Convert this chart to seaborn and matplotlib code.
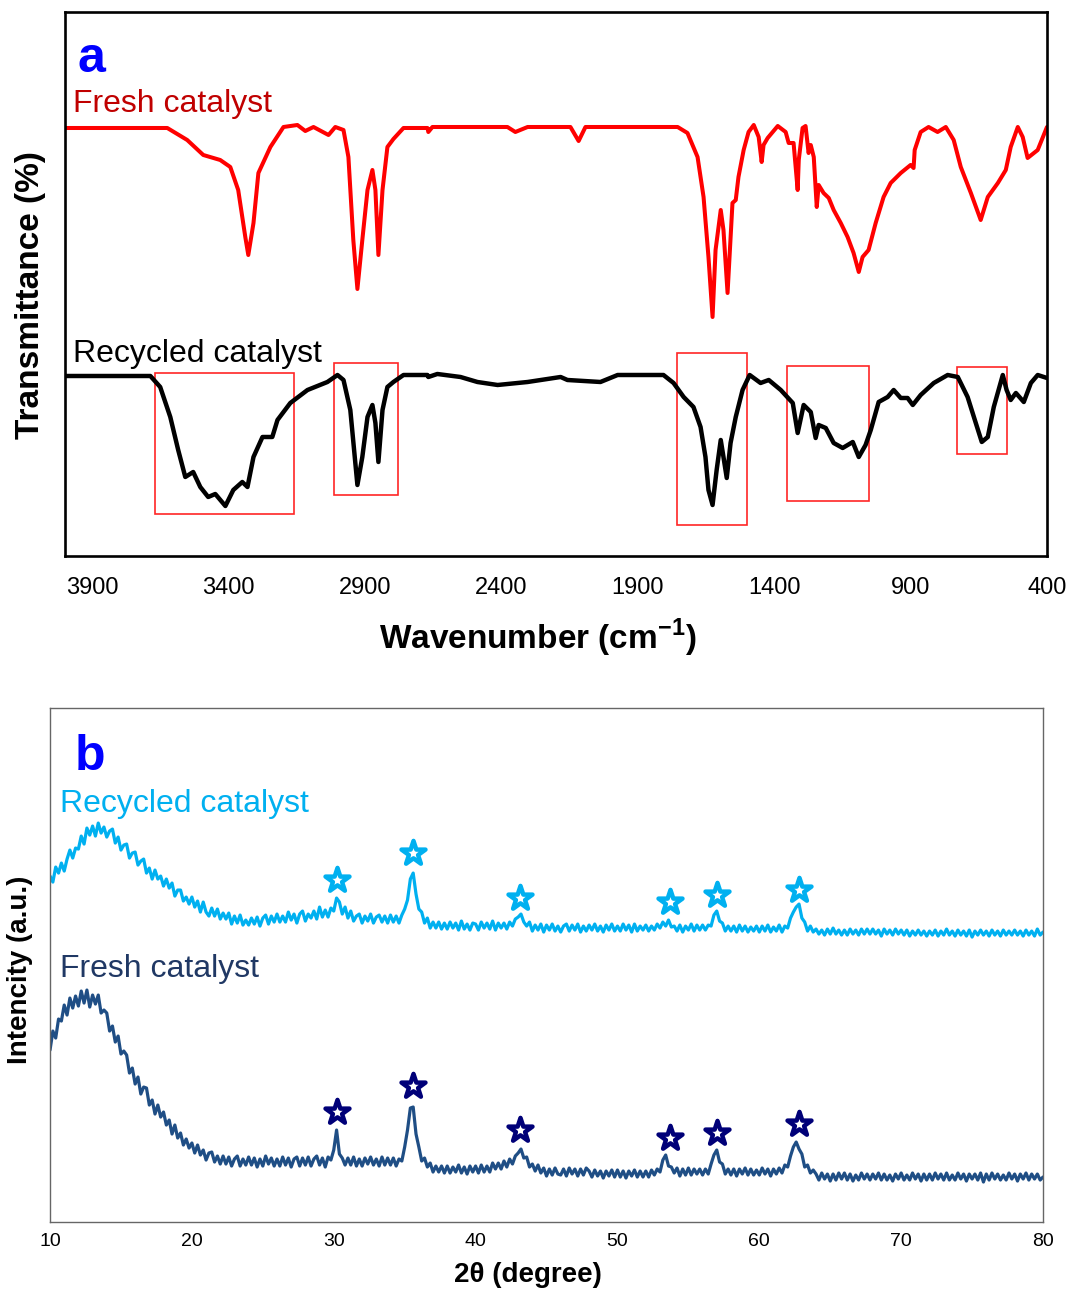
import numpy as np
import pandas as pd
import matplotlib
matplotlib.use('Agg')
import matplotlib.pyplot as plt
from matplotlib.patches import Rectangle
import seaborn as sns

# ---- FTIR (panel a) ----
fresh_wn = [4000, 3625, 3552, 3493, 3431, 3394, 3365, 3339, 3328, 3309, 3291, 3247, 3199, 3148,
            3119, 3089, 3034, 3009, 2979, 2961, 2943, 2928, 2910, 2891, 2873, 2862, 2851, 2836,
            2818, 2796, 2759, 2671, 2668, 2653, 2378, 2349, 2304, 2147, 2117, 2092, 1754, 1718,
            1681, 1659, 1641, 1626, 1615, 1596, 1586, 1571, 1553, 1541, 1531, 1512, 1494, 1475,
            1457, 1446, 1439, 1424, 1387, 1358, 1347, 1329, 1314, 1310, 1296, 1285, 1274, 1266,
            1255, 1244, 1237, 1219, 1200, 1182, 1156, 1131, 1109, 1090, 1076, 1054, 1028, 999,
            973, 936, 900, 889, 885, 863, 834, 801, 771, 742, 716, 679, 643, 617, 580, 551, 533,
            507, 489, 471, 434, 400]
fresh_t = [428, 428, 416, 401, 396, 389, 366, 319, 301, 333, 383, 409, 429, 431,
           425, 429, 421, 429, 426, 399, 316, 267, 316, 366, 386, 366, 301, 366,
           409, 417, 428, 428, 424, 429, 429, 424, 429, 429, 415, 429, 429, 423,
           399, 359, 299, 239, 306, 346, 326, 263, 353, 356, 379, 406, 424, 431,
           419, 394, 411, 418, 430, 424, 413, 413, 366, 396, 428, 430, 403, 411,
           399, 349, 371, 363, 358, 346, 333, 319, 303, 284, 299, 306, 333, 359,
           373, 383, 391, 388, 406, 424, 429, 424, 429, 416, 389, 363, 336, 359, 373, 386, 409,
           429, 419, 398, 406, 429]

recycled_wn = [4000, 3687, 3651, 3614, 3585, 3559, 3530, 3504, 3475, 3449, 3412, 3383, 3350, 3331,
               3309, 3276, 3240, 3221, 3174, 3111, 3038, 3001, 2979, 2954, 2928, 2910, 2891, 2873,
               2862, 2851, 2836, 2818, 2796, 2759, 2671, 2668, 2635, 2550, 2488, 2414, 2304, 2183,
               2158, 2037, 1974, 1806, 1769, 1732, 1696, 1670, 1652, 1641, 1626, 1611, 1596, 1586,
               1574, 1560, 1541, 1516, 1490, 1450, 1420, 1376, 1332, 1314, 1292, 1266, 1248, 1237,
               1211, 1182, 1149, 1112, 1090, 1065, 1046, 1017, 984, 962, 936, 911, 892, 863, 815,
               764, 727, 691, 661, 639, 617, 595, 562, 548, 533, 514, 485, 459, 434, 400]
recycled_t = [180, 180, 169, 139, 106, 79, 84, 69, 59, 62, 50, 66, 74, 69,
              99, 119, 119, 136, 153, 166, 174, 181, 176, 146, 71, 99, 139, 151,
              133, 94, 146, 169, 174, 181, 181, 179, 182, 179, 174, 171, 174, 179,
              176, 174, 181, 181, 173, 159, 149, 129, 99, 66, 51, 86, 116, 99,
              78, 113, 139, 166, 181, 173, 176, 166, 153, 123, 151, 144, 118, 131,
              128, 113, 108, 114, 99, 111, 126, 154, 159, 166, 158, 158, 151, 161, 173,
              181, 179, 159, 133, 114, 119, 149, 181, 166, 156, 163, 154, 173, 181, 178]

# highlighted regions: (wavenumber high, wavenumber low, T low, T high)
boxes = [(3669, 3159, 42, 183), (3012, 2778, 61, 193), (1758, 1501, 31, 203),
         (1354, 1054, 55, 190), (731, 548, 102, 189)]
wn_ticks = [3900, 3400, 2900, 2400, 1900, 1400, 900, 400]

# ---- XRD (panel b), 2theta = 10..80 step 0.2 ----
two_theta = np.round(np.linspace(10, 80, 351), 1)
recycled_int = [346, 340, 355, 349, 359, 351, 363, 372, 364, 374,
                373, 386, 378, 394, 387, 396, 386, 399, 389, 395,
                385, 391, 393, 379, 385, 372, 377, 378, 364, 369,
                370, 357, 361, 363, 349, 354, 343, 352, 343, 346,
                336, 343, 334, 339, 326, 332, 332, 321, 325, 318,
                325, 315, 321, 310, 320, 310, 306, 314, 306, 313,
                303, 309, 303, 309, 298, 306, 299, 307, 297, 302,
                297, 304, 298, 305, 296, 304, 307, 298, 306, 300,
                308, 300, 306, 300, 310, 302, 308, 299, 308, 311,
                301, 308, 304, 311, 303, 315, 305, 312, 305, 314,
                311, 324, 320, 308, 315, 304, 311, 301, 306, 308,
                299, 306, 301, 308, 299, 305, 307, 300, 306, 299,
                307, 300, 306, 299, 307, 313, 322, 343, 349, 328,
                313, 310, 299, 304, 294, 300, 294, 300, 293, 299,
                293, 300, 294, 299, 292, 301, 293, 298, 292, 299,
                298, 292, 300, 294, 299, 293, 301, 292, 299, 294,
                299, 293, 300, 296, 303, 305, 308, 300, 296, 300,
                291, 297, 292, 298, 290, 297, 292, 298, 291, 296,
                290, 296, 298, 291, 297, 292, 298, 290, 296, 291,
                297, 292, 298, 291, 296, 290, 297, 292, 298, 291,
                296, 291, 298, 292, 297, 290, 298, 291, 296, 292,
                297, 291, 296, 292, 298, 294, 300, 296, 302, 295,
                296, 291, 297, 290, 296, 292, 298, 291, 297, 292,
                297, 292, 297, 296, 307, 311, 301, 299, 291, 296,
                291, 296, 290, 297, 291, 296, 290, 295, 291, 296,
                290, 296, 291, 297, 290, 295, 291, 297, 290, 296,
                294, 304, 310, 315, 318, 304, 300, 291, 296, 290,
                293, 288, 292, 287, 293, 288, 294, 288, 292, 287,
                292, 287, 293, 288, 292, 287, 293, 288, 293, 288,
                293, 288, 292, 286, 293, 288, 292, 287, 293, 288,
                292, 287, 292, 286, 291, 287, 292, 287, 291, 286,
                291, 287, 292, 286, 291, 287, 293, 287, 291, 286,
                292, 287, 291, 286, 292, 285, 291, 287, 292, 287,
                291, 286, 292, 287, 291, 286, 292, 287, 291, 287,
                292, 287, 291, 286, 292, 287, 291, 286, 293, 287,
                290]
fresh_int = [172, 191, 184, 203, 201, 217, 207, 224, 214, 226,
             216, 231, 219, 232, 215, 227, 218, 227, 209, 212,
             209, 191, 196, 180, 186, 168, 171, 167, 149, 154,
             138, 145, 128, 135, 134, 117, 122, 108, 117, 105,
             110, 97, 102, 88, 97, 84, 89, 77, 83, 74,
             79, 69, 77, 67, 72, 62, 69, 70, 60, 66,
             58, 66, 58, 65, 56, 63, 66, 56, 63, 57,
             65, 57, 64, 55, 63, 56, 66, 58, 64, 56,
             63, 56, 65, 57, 64, 55, 63, 65, 56, 64,
             57, 65, 56, 63, 66, 57, 64, 55, 65, 62,
             72, 92, 68, 64, 57, 64, 57, 65, 56, 63,
             56, 64, 58, 65, 57, 63, 56, 65, 57, 64,
             57, 64, 56, 63, 61, 75, 92, 114, 115, 88,
             75, 61, 64, 55, 59, 50, 56, 50, 56, 49,
             56, 49, 55, 50, 57, 49, 55, 48, 56, 50,
             56, 49, 57, 50, 56, 50, 59, 53, 59, 53,
             61, 55, 63, 58, 66, 69, 73, 64, 65, 55,
             58, 51, 57, 49, 54, 46, 53, 47, 54, 48,
             47, 53, 46, 54, 48, 53, 46, 53, 47, 54,
             51, 45, 52, 46, 51, 44, 51, 46, 52, 45,
             52, 45, 51, 44, 51, 46, 52, 45, 51, 45,
             51, 45, 52, 47, 53, 50, 62, 67, 56, 55,
             49, 54, 46, 53, 47, 54, 47, 53, 48, 53,
             47, 53, 48, 58, 67, 72, 60, 58, 48, 53,
             47, 53, 46, 53, 48, 54, 47, 53, 47, 52,
             47, 54, 48, 53, 46, 53, 48, 54, 49, 57,
             55, 66, 75, 80, 73, 68, 55, 57, 49, 52,
             48, 42, 49, 43, 48, 41, 48, 42, 49, 43,
             49, 42, 48, 41, 47, 42, 49, 43, 48, 42,
             48, 43, 49, 42, 48, 42, 47, 41, 48, 43,
             49, 42, 47, 42, 49, 43, 48, 41, 48, 42,
             48, 42, 49, 43, 48, 42, 49, 42, 47, 42,
             49, 43, 48, 41, 48, 43, 48, 42, 49, 40,
             48, 42, 49, 43, 48, 42, 47, 42, 49, 43,
             48, 41, 48, 43, 49, 42, 48, 43, 48, 42,
             45]
star_pos = [30.2, 35.6, 43.1, 53.7, 57.0, 62.8]
recycled_star = [342, 369, 324, 320, 327, 332]
fresh_star = [110, 136, 92, 84, 89, 98]
theta_ticks = [10, 20, 30, 40, 50, 60, 70, 80]

sns.set_style('white')
plt.rcParams['font.family'] = ['Liberation Sans', 'DejaVu Sans']
plt.rcParams['mathtext.fontset'] = 'custom'
plt.rcParams['mathtext.rm'] = 'Liberation Sans'
plt.rcParams['mathtext.bf'] = 'Liberation Sans:bold'

RED = '#FF0000'
LIGHT = '#00B0F0'
DARK = '#1F4E85'
NAVY = '#000078'

fig = plt.figure(figsize=(10.69, 12.9), dpi=100)

# panel a
ax1 = fig.add_axes([0.0608, 0.569, 0.9186, 0.4217])
sns.lineplot(x=fresh_wn, y=fresh_t, ax=ax1, color=RED, linewidth=2.9, estimator=None, sort=False)
sns.lineplot(x=recycled_wn, y=recycled_t, ax=ax1, color='black', linewidth=3.2, estimator=None, sort=False)
for ln in ax1.lines:
    ln.set_solid_joinstyle('round')
for hi, lo, b, t in boxes:
    ax1.add_patch(Rectangle((lo, b), hi - lo, t - b, fill=False, edgecolor=RED,
                            linewidth=1.2, alpha=0.85))
ax1.set_xlim(4000, 400)
ax1.set_ylim(0, 544)
ax1.set_xticks(wn_ticks)
ax1.set_xticklabels([str(v) for v in wn_ticks], fontsize=17, color='black')
ax1.set_yticks([])
ax1.tick_params(axis='x', length=0, pad=15)
for sp in ax1.spines.values():
    sp.set_color('black')
    sp.set_linewidth(1.9)
ax1.set_xlabel('Wavenumber (cm$^{\\mathbf{-1}}$)', fontsize=24, fontweight='bold', color='black')
ax1.xaxis.set_label_coords(0.4817, -0.112)
ax1.set_ylabel('Transmittance (%)', fontsize=24, fontweight='bold', color='black')
ax1.yaxis.set_label_coords(-0.019, 0.48)
ax1.text(0.013, 0.8897, 'a', transform=ax1.transAxes, fontsize=36, fontweight='bold',
         color='#0000FF', va='baseline')
ax1.text(0.008, 0.816, 'Fresh catalyst', transform=ax1.transAxes, fontsize=23,
         color='#C00000', va='baseline')
ax1.text(0.008, 0.357, 'Recycled catalyst', transform=ax1.transAxes, fontsize=23,
         color='black', va='baseline')

# panel b
ax2 = fig.add_axes([0.0468, 0.0527, 0.9289, 0.3984])
sns.lineplot(x=two_theta, y=recycled_int, ax=ax2, color=LIGHT, linewidth=2.3, estimator=None, sort=False)
sns.lineplot(x=two_theta, y=fresh_int, ax=ax2, color=DARK, linewidth=2.3, estimator=None, sort=False)
sns.scatterplot(x=star_pos, y=recycled_star, ax=ax2, marker='*', s=330, color='white',
                edgecolor=LIGHT, linewidth=3.2, zorder=5)
sns.scatterplot(x=star_pos, y=fresh_star, ax=ax2, marker='*', s=330, color='white',
                edgecolor=NAVY, linewidth=3.2, zorder=5)
ax2.set_xlim(10, 80)
ax2.set_ylim(0, 514)
ax2.set_xticks(theta_ticks)
ax2.set_xticklabels([str(v) for v in theta_ticks], fontsize=14, color='black')
ax2.set_yticks([])
ax2.tick_params(axis='x', length=0, pad=8)
for sp in ax2.spines.values():
    sp.set_color('#666666')
    sp.set_linewidth(1.0)
ax2.set_xlabel('2θ (degree)', fontsize=20, fontweight='bold', color='black')
ax2.xaxis.set_label_coords(0.481, -0.078)
ax2.set_ylabel('Intencity (a.u.)', fontsize=20, fontweight='bold', color='black')
ax2.yaxis.set_label_coords(-0.017, 0.49)
ax2.text(0.025, 0.879, 'b', transform=ax2.transAxes, fontsize=36, fontweight='bold',
         color='#0000FF', va='baseline')
ax2.text(0.010, 0.798, 'Recycled catalyst', transform=ax2.transAxes, fontsize=23,
         color=LIGHT, va='baseline')
ax2.text(0.010, 0.477, 'Fresh catalyst', transform=ax2.transAxes, fontsize=23,
         color='#203864', va='baseline')

fig.savefig('out.png', dpi=100)
